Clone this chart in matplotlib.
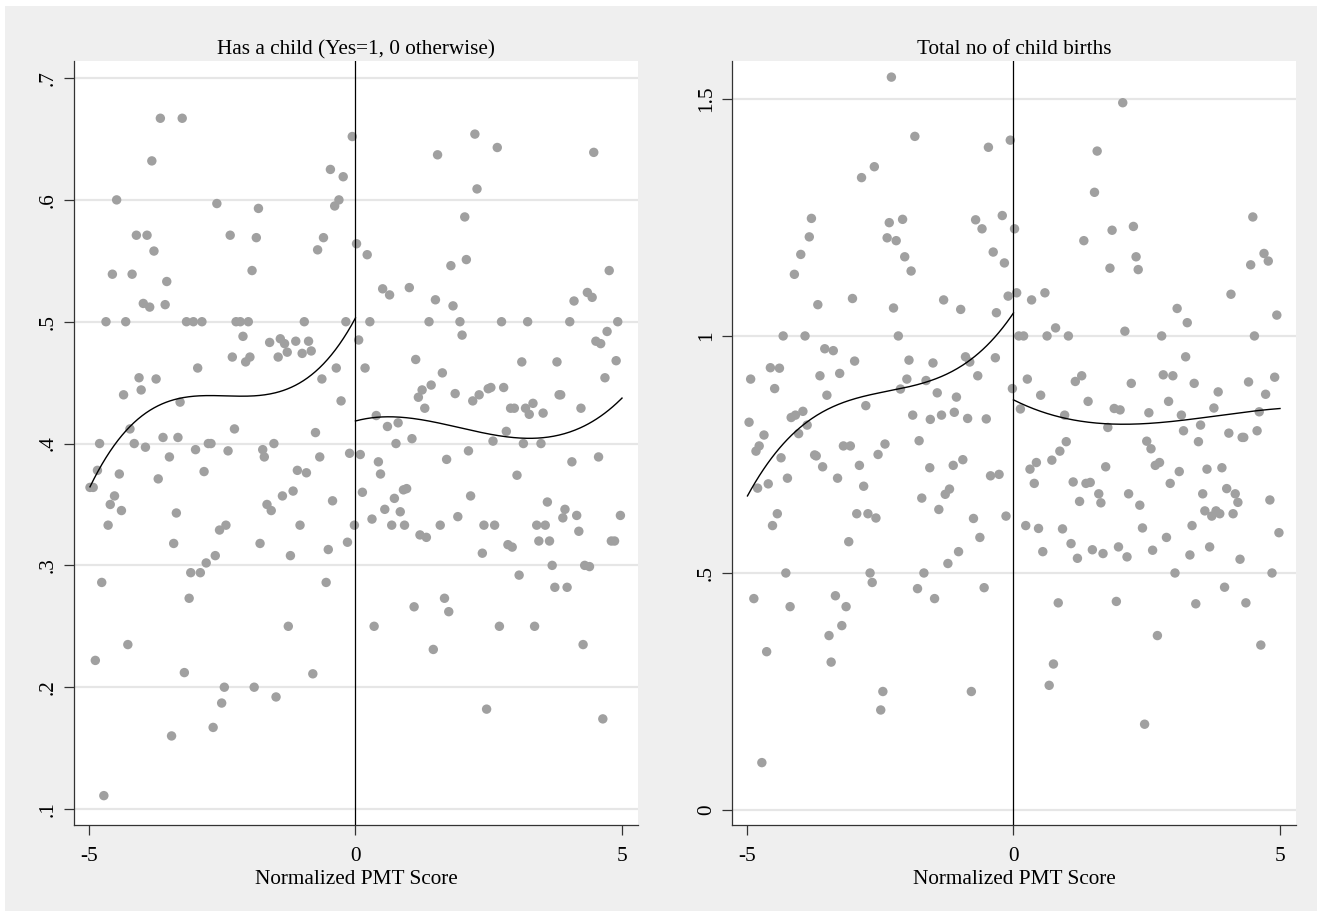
import numpy as np
import matplotlib.pyplot as plt
from matplotlib.patches import Rectangle

# ---- Left panel: Has a child (Yes=1, 0 otherwise) ----
left_x = [-3.66, -3.25, -0.06, 2.24, 2.66, 1.54, 4.47, -3.82, -0.47, -0.23,
          2.28, -4.48, -0.31, -2.60, -0.39, -1.82, 2.05, -4.11, -3.91, -2.35,
          -1.86, -0.60, -3.78, -0.71, 0.02, 0.22, 2.08, 1.79, -4.56, -4.19,
          -1.94, -3.54, 4.76, 0.51, 0.64, 1.01, 1.50, 4.10, 4.35, 4.44,
          -3.98, -3.86, -3.57, 1.83, -4.68, -4.31, -3.17, -3.04, -2.88, -2.24,
          -2.16, -2.01, -0.96, -0.18, 0.27, 1.38, 1.96, 2.74, 3.23, 4.02,
          4.92, 2.00, 0.06, -2.11, -1.61, -1.41, -1.33, -1.12, -0.88, -0.83,
          -1.28, -1.45, -1.00, -2.31, -2.06, -1.98, -2.96, -0.36, 0.18, 1.13,
          3.12, 3.78, 4.89, 4.51, 4.60, 4.72, 1.63, 4.68, -4.06, -4.02,
          -3.74, -4.35, -3.29, -0.63, -0.27, 1.25, 1.42, 1.18, 1.30, 1.87,
          2.20, 2.32, 2.49, 2.54, 2.78, 2.91, 2.98, 3.19, 3.26, 3.33,
          3.52, 3.82, 3.85, 4.23, 0.39, 0.60, 0.80, 1.06, 0.76, 2.83,
          2.58, 3.15, 3.48, 2.12, 1.71, 4.06, 4.56, 3.03, -4.23, -4.80,
          -4.15, -3.94, -3.61, -3.33, -2.27, -0.75, -3.00, -2.76, -2.71, -2.39,
          -1.74, -1.71, -1.53, -0.67, -0.11, 0.09, -3.49, -4.84, -4.43, -4.98,
          -4.92, -3.70, -2.84, -1.09, -0.92, 0.43, 0.47, -4.52, -4.60, -4.39,
          -4.64, -3.36, -1.66, -1.58, -1.37, -1.17, -0.43, -1.04, 0.13, 0.73,
          0.90, 0.96, 0.55, 0.84, 0.31, 0.68, 0.92, 1.59, 1.92, 2.16,
          2.41, 2.61, 3.60, 3.93, 4.15, 4.19, 3.89, 3.40, 3.56, 3.44,
          3.64, 4.97, 4.80, 4.86, -0.02, 1.21, 1.33, 2.86, 2.94, 2.38,
          3.69, 4.30, 4.39, 3.07, 3.74, 3.97, 1.67, -2.43, -2.55, -1.79,
          -3.41, -2.63, -2.80, -1.22, -0.51, -0.15, -3.09, -2.91, -4.76, -0.55,
          -3.12, 1.10, 1.75, -1.26, 0.35, 2.70, 3.36, -4.27, 1.46, 4.27,
          -4.88, -3.21, -0.80, -2.46, -1.90, -1.49, -2.51, 2.46, 4.64, -2.67,
          -3.45, -4.72]
left_y = [.667, .667, .652, .654, .643, .637, .639, .632, .625, .619,
          .609, .600, .600, .597, .595, .593, .586, .571, .571, .571,
          .569, .569, .558, .559, .564, .555, .551, .546, .539, .539,
          .542, .533, .542, .527, .522, .528, .518, .517, .524, .520,
          .515, .512, .514, .513, .500, .500, .500, .500, .500, .500,
          .500, .500, .500, .500, .500, .500, .500, .500, .500, .500,
          .500, .489, .485, .488, .483, .486, .482, .484, .484, .476,
          .475, .471, .474, .471, .467, .471, .462, .462, .462, .469,
          .467, .467, .468, .484, .482, .492, .458, .454, .454, .444,
          .453, .440, .434, .453, .435, .444, .448, .438, .429, .441,
          .435, .440, .445, .446, .446, .429, .429, .429, .424, .433,
          .425, .440, .440, .429, .423, .414, .417, .404, .400, .410,
          .402, .400, .400, .394, .387, .385, .389, .374, .412, .400,
          .400, .397, .405, .405, .412, .409, .395, .400, .400, .394,
          .395, .389, .400, .389, .392, .391, .389, .378, .375, .364,
          .364, .371, .377, .378, .376, .385, .375, .357, .350, .345,
          .333, .343, .350, .345, .357, .361, .353, .333, .360, .355,
          .362, .363, .346, .344, .338, .333, .333, .333, .340, .357,
          .333, .333, .352, .346, .341, .328, .339, .333, .333, .320,
          .320, .341, .320, .320, .333, .325, .323, .317, .315, .310,
          .300, .300, .299, .292, .282, .282, .273, .333, .329, .318,
          .318, .308, .302, .308, .313, .319, .294, .294, .286, .286,
          .273, .266, .262, .250, .250, .250, .250, .235, .231, .235,
          .222, .212, .211, .200, .200, .192, .187, .182, .174, .167,
          .160, .111]

# cubic fit (below / above the cutoff)
left_fit_lx = [-4.98, -4.30, -3.91, -3.36, -2.73, -1.94, -1.54, -1.15, -0.75, -0.36, 0.0]
left_fit_ly = [.364, .411, .427, .436, .4386, .439, .441, .447, .460, .479, .502]
left_fit_rx = [0.0, 0.75, 1.62, 2.41, 3.20, 3.99, 5.0]
left_fit_ry = [.418, .423, .416, .408, .404, .410, .437]

# ---- Right panel: Total no of child births ----
right_x = [-2.29, 2.05, -1.85, -0.06, -0.47, 1.57, -2.61, -2.85, 1.52, -0.21,
           -3.79, -2.33, -2.08, -0.71, -0.59, 0.02, 4.49, 2.25, 1.85, -3.83,
           -2.37, -2.20, 1.32, -3.99, -2.04, -0.38, 2.30, 4.70, 4.78, 4.45,
           -4.11, -1.92, -0.17, 1.81, 2.34, -3.02, -1.31, -0.10, 0.06, 0.34,
           0.59, 4.08, -3.67, -2.25, -0.99, -0.32, 3.07, 3.26, 4.94, -4.32,
           -3.91, -2.16, 0.10, 0.19, 0.63, 1.03, 2.78, 4.52, 0.79, 2.09,
           -3.54, -3.38, -2.98, -1.96, -1.51, -0.90, -0.82, -0.34, 3.23, -4.56,
           -4.39, -4.93, -3.63, -3.26, -4.48, -2.00, -1.64, -2.12, -0.67, -1.43,
           -0.02, 0.26, 1.16, 1.28, 2.21, 2.81, 2.99, 3.39, 4.41, 4.90,
           4.73, 3.84, 0.51, -3.50, -1.07, 1.40, 2.91, -2.77, 1.89, 2.00,
           3.76, 0.13, 4.61, -3.95, -4.09, -4.17, -1.89, -1.35, -1.56, -1.11,
           -0.86, -0.51, 2.54, 3.15, 0.96, -4.96, -3.87, 1.77, 3.51, -4.68,
           -4.03, 3.19, 4.04, 4.29, 4.32, 4.57, 2.50, 3.47, -4.77, -4.83,
           -3.19, -3.06, -2.41, -1.77, 0.99, 2.58, 0.87, -3.73, -3.70, -2.54,
           -4.36, 0.72, -0.95, -3.58, -2.89, -1.57, -1.13, 1.73, 2.66, 2.74,
           3.11, 3.63, 3.91, 0.43, 0.31, -3.30, -4.24, -4.60, -4.80, -0.43,
           -0.27, -2.81, 0.39, 1.12, 1.36, 1.44, 2.94, 1.60, 1.64, 2.16,
           3.55, 4.00, 4.16, 4.21, 4.81, 1.24, 2.37, -1.28, -1.20, -1.72,
           -1.40, -4.43, -4.52, -2.94, -2.73, -2.58, -0.75, -0.14, 3.59, 3.72,
           3.80, 3.87, 4.12, 3.35, 0.23, 0.47, 0.92, 2.42, 4.98, -0.63,
           2.87, -3.09, -1.03, -1.23, 1.08, 0.55, 1.20, 1.48, 1.68, 1.97,
           2.13, 2.61, 3.31, 3.68, 4.25, -4.27, -2.69, -1.68, -2.65, 3.03,
           4.85, -1.80, -0.55, 3.96, -3.34, -4.87, -1.48, -4.19, -3.14, 0.84,
           1.93, 3.42, 4.36, -3.22, -3.46, -4.63, -3.42, -2.45, -0.79, -2.49,
           2.70, 4.64, 0.75, 0.67, 2.46, -4.72]
right_y = [1.546, 1.492, 1.421, 1.413, 1.398, 1.390, 1.357, 1.334, 1.303, 1.254,
           1.248, 1.239, 1.246, 1.245, 1.226, 1.226, 1.251, 1.231, 1.223, 1.209,
           1.207, 1.201, 1.201, 1.172, 1.167, 1.177, 1.167, 1.174, 1.158, 1.150,
           1.130, 1.137, 1.154, 1.143, 1.140, 1.079, 1.076, 1.084, 1.091, 1.076,
           1.091, 1.088, 1.066, 1.059, 1.056, 1.049, 1.058, 1.028, 1.044, 1.000,
           1.000, 1.000, 1.000, 1.000, 1.000, 1.000, 1.000, 1.000, 1.017, 1.010,
           .973, .969, .947, .949, .943, .956, .945, .954, .956, .933,
           .932, .909, .916, .921, .889, .909, .906, .888, .916, .880,
           .889, .909, .904, .916, .900, .918, .916, .900, .903, .913,
           .877, .882, .875, .875, .871, .862, .862, .853, .847, .844,
           .848, .846, .840, .841, .833, .828, .833, .833, .824, .839,
           .826, .825, .838, .833, .833, .818, .812, .807, .812, .791,
           .794, .800, .795, .786, .786, .800, .778, .777, .768, .757,
           .768, .768, .772, .779, .777, .762, .757, .749, .747, .750,
           .743, .738, .739, .724, .727, .722, .727, .724, .727, .733,
           .714, .719, .722, .733, .719, .700, .700, .688, .679, .705,
           .708, .683, .689, .692, .689, .691, .689, .667, .648, .667,
           .667, .678, .667, .649, .654, .651, .643, .666, .677, .658,
           .634, .625, .600, .625, .625, .616, .615, .620, .631, .620,
           .631, .625, .625, .600, .600, .594, .593, .595, .585, .575,
           .575, .566, .545, .520, .562, .545, .531, .549, .541, .555,
           .534, .548, .538, .555, .529, .500, .500, .500, .480, .500,
           .500, .467, .469, .470, .452, .446, .446, .429, .429, .437,
           .440, .435, .437, .389, .368, .334, .312, .250, .250, .211,
           .368, .348, .308, .263, .181, .100]

right_fit_lx = [-4.99, -4.26, -3.70, -3.07, -2.27, -1.48, -0.93, -0.37, 0.0]
right_fit_ly = [.662, .780, .833, .864, .885, .906, .942, .998, 1.046]
right_fit_rx = [0.0, 0.50, 1.29, 2.08, 2.88, 3.67, 5.0]
right_fit_ry = [.865, .842, .819, .814, .819, .829, .847]

titles = ['Has a child (Yes=1, 0 otherwise)', 'Total no of child births']
left_yticks = [.1, .2, .3, .4, .5, .6, .7]
left_ylabels = ['.1', '.2', '.3', '.4', '.5', '.6', '.7']
right_yticks = [0, .5, 1, 1.5]
right_ylabels = ['0', '.5', '1', '1.5']
xticks = [-5, 0, 5]
xlabel = 'Normalized PMT Score'

plt.rcParams['font.family'] = ['Liberation Serif', 'DejaVu Serif']
W, H = 1322, 915
fig = plt.figure(figsize=(W / 100, H / 100), dpi=100, facecolor='white')
# grey graph region behind both panels
fig.add_artist(Rectangle((5 / W, 1 - 911 / H), 1312 / W, 905 / H,
                         transform=fig.transFigure, facecolor='#efefef',
                         edgecolor='none', zorder=-5))

panels = [
    (74, left_x, left_y, (left_fit_lx, left_fit_ly, left_fit_rx, left_fit_ry),
     left_yticks, left_ylabels, (0.0869, 0.714)),
    (732, right_x, right_y, (right_fit_lx, right_fit_ly, right_fit_rx, right_fit_ry),
     right_yticks, right_ylabels, (-0.0316, 1.58)),
]

for i, (x0, xs, ys, fit, yt, yl, ylim) in enumerate(panels):
    ax = fig.add_axes([x0 / W, 1 - 825 / H, 564 / W, 764 / H])
    ax.set_facecolor('white')

    ax.scatter(xs, ys, s=46, color='#a0a0a0', edgecolors='none', zorder=2)

    # cubic fits on each side of the cutoff
    fx_l, fy_l, fx_r, fy_r = fit
    c_l = np.polyfit(fx_l, fy_l, 3)
    c_r = np.polyfit(fx_r, fy_r, 3)
    gl = np.linspace(min(fx_l), 0, 200)
    gr = np.linspace(0, max(fx_r), 200)
    ax.plot(gl, np.polyval(c_l, gl), color='black', lw=1.0, zorder=3)
    ax.plot(gr, np.polyval(c_r, gr), color='black', lw=1.0, zorder=3)

    ax.axvline(0, color='black', lw=0.9, zorder=3)

    ax.set_xlim(-5.28, 5.30)
    ax.set_ylim(*ylim)
    ax.set_xticks(xticks)
    ax.set_xticklabels([str(t) for t in xticks])
    ax.set_yticks(yt)
    ax.set_yticklabels(yl, rotation=90, va='center')

    ax.yaxis.grid(True, color='#e6e6e6', lw=1.6)
    ax.set_axisbelow(True)

    for side in ['top', 'right']:
        ax.spines[side].set_visible(False)
    for side in ['left', 'bottom']:
        ax.spines[side].set_linewidth(0.9)
        ax.spines[side].set_color('#333333')
    ax.tick_params(direction='out', length=7.5, width=0.9, color='#333333',
                   labelsize=15.3)
    ax.tick_params(axis='x', pad=8.5)
    ax.tick_params(axis='y', pad=4)

    ax.set_title(titles[i], fontsize=15.3, pad=5)
    ax.set_xlabel(xlabel, fontsize=15.3, va='center')
    ax.xaxis.set_label_coords(0.5, -(879 - 825) / 764)

fig.savefig('out.png', dpi=100, facecolor='white')
